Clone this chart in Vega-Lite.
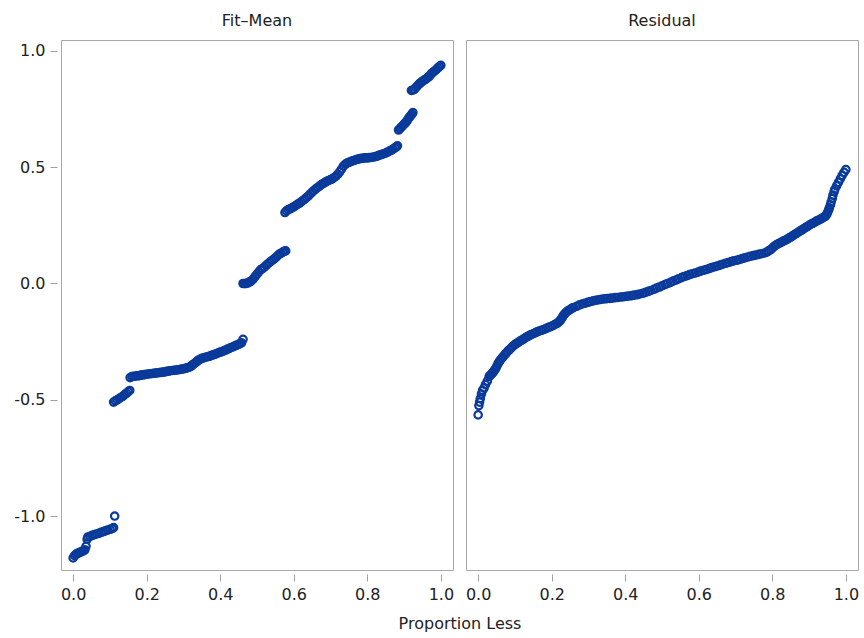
{
"$schema":"https://vega.github.io/schema/vega-lite/v6.json",
"padding":{"left":13,"top":13,"right":5,"bottom":3},
"datasets":{"pts":[
{"panel":"Fit–Mean","x":0,"y":-1.18},{"panel":"Fit–Mean","x":0.004,"y":-1.17},{"panel":"Fit–Mean","x":0.008,"y":-1.165},{"panel":"Fit–Mean","x":0.012,"y":-1.16},{"panel":"Fit–Mean","x":0.016,"y":-1.158},{"panel":"Fit–Mean","x":0.02,"y":-1.155},{"panel":"Fit–Mean","x":0.024,"y":-1.152},{"panel":"Fit–Mean","x":0.028,"y":-1.15},{"panel":"Fit–Mean","x":0.032,"y":-1.145},{"panel":"Fit–Mean","x":0.035,"y":-1.13},{"panel":"Fit–Mean","x":0.038,"y":-1.1},{"panel":"Fit–Mean","x":0.04,"y":-1.09},{"panel":"Fit–Mean","x":0.046,"y":-1.087},{"panel":"Fit–Mean","x":0.052,"y":-1.083},{"panel":"Fit–Mean","x":0.058,"y":-1.08},{"panel":"Fit–Mean","x":0.064,"y":-1.077},{"panel":"Fit–Mean","x":0.07,"y":-1.074},{"panel":"Fit–Mean","x":0.076,"y":-1.07},{"panel":"Fit–Mean","x":0.082,"y":-1.067},{"panel":"Fit–Mean","x":0.088,"y":-1.064},{"panel":"Fit–Mean","x":0.094,"y":-1.06},{"panel":"Fit–Mean","x":0.1,"y":-1.057},{"panel":"Fit–Mean","x":0.106,"y":-1.054},{"panel":"Fit–Mean","x":0.11,"y":-1.05},{"panel":"Fit–Mean","x":0.113,"y":-1.0},
{"panel":"Fit–Mean","x":0.11,"y":-0.51},{"panel":"Fit–Mean","x":0.115,"y":-0.505},{"panel":"Fit–Mean","x":0.12,"y":-0.5},{"panel":"Fit–Mean","x":0.125,"y":-0.495},{"panel":"Fit–Mean","x":0.13,"y":-0.49},{"panel":"Fit–Mean","x":0.135,"y":-0.485},{"panel":"Fit–Mean","x":0.14,"y":-0.478},{"panel":"Fit–Mean","x":0.145,"y":-0.472},{"panel":"Fit–Mean","x":0.15,"y":-0.465},{"panel":"Fit–Mean","x":0.154,"y":-0.46},
{"panel":"Fit–Mean","x":0.155,"y":-0.405},{"panel":"Fit–Mean","x":0.16,"y":-0.4},{"panel":"Fit–Mean","x":0.165,"y":-0.399},{"panel":"Fit–Mean","x":0.17,"y":-0.398},{"panel":"Fit–Mean","x":0.175,"y":-0.397},{"panel":"Fit–Mean","x":0.18,"y":-0.396},{"panel":"Fit–Mean","x":0.185,"y":-0.394},{"panel":"Fit–Mean","x":0.19,"y":-0.393},{"panel":"Fit–Mean","x":0.195,"y":-0.392},{"panel":"Fit–Mean","x":0.2,"y":-0.39},{"panel":"Fit–Mean","x":0.205,"y":-0.389},{"panel":"Fit–Mean","x":0.21,"y":-0.388},{"panel":"Fit–Mean","x":0.215,"y":-0.387},{"panel":"Fit–Mean","x":0.22,"y":-0.386},{"panel":"Fit–Mean","x":0.225,"y":-0.385},{"panel":"Fit–Mean","x":0.23,"y":-0.384},{"panel":"Fit–Mean","x":0.235,"y":-0.383},{"panel":"Fit–Mean","x":0.24,"y":-0.382},{"panel":"Fit–Mean","x":0.245,"y":-0.381},{"panel":"Fit–Mean","x":0.25,"y":-0.38},{"panel":"Fit–Mean","x":0.255,"y":-0.378},{"panel":"Fit–Mean","x":0.26,"y":-0.377},{"panel":"Fit–Mean","x":0.265,"y":-0.375},{"panel":"Fit–Mean","x":0.27,"y":-0.374},{"panel":"Fit–Mean","x":0.275,"y":-0.373},{"panel":"Fit–Mean","x":0.28,"y":-0.372},{"panel":"Fit–Mean","x":0.285,"y":-0.371},{"panel":"Fit–Mean","x":0.29,"y":-0.37},{"panel":"Fit–Mean","x":0.295,"y":-0.368},{"panel":"Fit–Mean","x":0.3,"y":-0.367},{"panel":"Fit–Mean","x":0.305,"y":-0.365},{"panel":"Fit–Mean","x":0.31,"y":-0.363},{"panel":"Fit–Mean","x":0.314,"y":-0.361},{"panel":"Fit–Mean","x":0.318,"y":-0.358},{"panel":"Fit–Mean","x":0.322,"y":-0.354},{"panel":"Fit–Mean","x":0.325,"y":-0.35},{"panel":"Fit–Mean","x":0.329,"y":-0.345},{"panel":"Fit–Mean","x":0.333,"y":-0.34},{"panel":"Fit–Mean","x":0.337,"y":-0.335},{"panel":"Fit–Mean","x":0.34,"y":-0.33},{"panel":"Fit–Mean","x":0.345,"y":-0.326},{"panel":"Fit–Mean","x":0.35,"y":-0.322},{"panel":"Fit–Mean","x":0.355,"y":-0.32},{"panel":"Fit–Mean","x":0.36,"y":-0.317},{"panel":"Fit–Mean","x":0.365,"y":-0.315},{"panel":"Fit–Mean","x":0.37,"y":-0.313},{"panel":"Fit–Mean","x":0.375,"y":-0.31},{"panel":"Fit–Mean","x":0.38,"y":-0.307},{"panel":"Fit–Mean","x":0.385,"y":-0.305},{"panel":"Fit–Mean","x":0.39,"y":-0.302},{"panel":"Fit–Mean","x":0.395,"y":-0.298},{"panel":"Fit–Mean","x":0.4,"y":-0.295},{"panel":"Fit–Mean","x":0.405,"y":-0.293},{"panel":"Fit–Mean","x":0.41,"y":-0.29},{"panel":"Fit–Mean","x":0.415,"y":-0.286},{"panel":"Fit–Mean","x":0.42,"y":-0.282},{"panel":"Fit–Mean","x":0.425,"y":-0.279},{"panel":"Fit–Mean","x":0.43,"y":-0.275},{"panel":"Fit–Mean","x":0.435,"y":-0.272},{"panel":"Fit–Mean","x":0.44,"y":-0.268},{"panel":"Fit–Mean","x":0.445,"y":-0.265},{"panel":"Fit–Mean","x":0.45,"y":-0.262},{"panel":"Fit–Mean","x":0.454,"y":-0.258},{"panel":"Fit–Mean","x":0.458,"y":-0.255},{"panel":"Fit–Mean","x":0.462,"y":-0.24},
{"panel":"Fit–Mean","x":0.462,"y":0.0},{"panel":"Fit–Mean","x":0.466,"y":0.0},{"panel":"Fit–Mean","x":0.47,"y":0.0},{"panel":"Fit–Mean","x":0.474,"y":0.002},{"panel":"Fit–Mean","x":0.478,"y":0.005},{"panel":"Fit–Mean","x":0.482,"y":0.008},{"panel":"Fit–Mean","x":0.485,"y":0.012},{"panel":"Fit–Mean","x":0.49,"y":0.02},{"panel":"Fit–Mean","x":0.495,"y":0.03},{"panel":"Fit–Mean","x":0.5,"y":0.04},{"panel":"Fit–Mean","x":0.505,"y":0.05},{"panel":"Fit–Mean","x":0.51,"y":0.06},{"panel":"Fit–Mean","x":0.515,"y":0.064},{"panel":"Fit–Mean","x":0.52,"y":0.07},{"panel":"Fit–Mean","x":0.525,"y":0.078},{"panel":"Fit–Mean","x":0.53,"y":0.085},{"panel":"Fit–Mean","x":0.535,"y":0.092},{"panel":"Fit–Mean","x":0.54,"y":0.098},{"panel":"Fit–Mean","x":0.545,"y":0.104},{"panel":"Fit–Mean","x":0.55,"y":0.11},{"panel":"Fit–Mean","x":0.555,"y":0.118},{"panel":"Fit–Mean","x":0.56,"y":0.125},{"panel":"Fit–Mean","x":0.565,"y":0.13},{"panel":"Fit–Mean","x":0.57,"y":0.135},{"panel":"Fit–Mean","x":0.574,"y":0.138},{"panel":"Fit–Mean","x":0.578,"y":0.14},
{"panel":"Fit–Mean","x":0.576,"y":0.305},{"panel":"Fit–Mean","x":0.58,"y":0.312},{"panel":"Fit–Mean","x":0.585,"y":0.318},{"panel":"Fit–Mean","x":0.59,"y":0.321},{"panel":"Fit–Mean","x":0.595,"y":0.325},{"panel":"Fit–Mean","x":0.6,"y":0.33},{"panel":"Fit–Mean","x":0.605,"y":0.335},{"panel":"Fit–Mean","x":0.61,"y":0.34},{"panel":"Fit–Mean","x":0.615,"y":0.345},{"panel":"Fit–Mean","x":0.62,"y":0.351},{"panel":"Fit–Mean","x":0.625,"y":0.357},{"panel":"Fit–Mean","x":0.63,"y":0.363},{"panel":"Fit–Mean","x":0.635,"y":0.37},{"panel":"Fit–Mean","x":0.64,"y":0.377},{"panel":"Fit–Mean","x":0.645,"y":0.385},{"panel":"Fit–Mean","x":0.65,"y":0.393},{"panel":"Fit–Mean","x":0.655,"y":0.4},{"panel":"Fit–Mean","x":0.66,"y":0.407},{"panel":"Fit–Mean","x":0.665,"y":0.413},{"panel":"Fit–Mean","x":0.67,"y":0.419},{"panel":"Fit–Mean","x":0.675,"y":0.425},{"panel":"Fit–Mean","x":0.68,"y":0.43},{"panel":"Fit–Mean","x":0.685,"y":0.435},{"panel":"Fit–Mean","x":0.69,"y":0.439},{"panel":"Fit–Mean","x":0.695,"y":0.443},{"panel":"Fit–Mean","x":0.7,"y":0.447},{"panel":"Fit–Mean","x":0.705,"y":0.45},{"panel":"Fit–Mean","x":0.71,"y":0.456},{"panel":"Fit–Mean","x":0.715,"y":0.462},{"panel":"Fit–Mean","x":0.72,"y":0.47},{"panel":"Fit–Mean","x":0.725,"y":0.48},{"panel":"Fit–Mean","x":0.73,"y":0.492},{"panel":"Fit–Mean","x":0.735,"y":0.505},{"panel":"Fit–Mean","x":0.74,"y":0.512},{"panel":"Fit–Mean","x":0.745,"y":0.518},{"panel":"Fit–Mean","x":0.75,"y":0.521},{"panel":"Fit–Mean","x":0.755,"y":0.524},{"panel":"Fit–Mean","x":0.76,"y":0.527},{"panel":"Fit–Mean","x":0.765,"y":0.53},{"panel":"Fit–Mean","x":0.77,"y":0.533},{"panel":"Fit–Mean","x":0.775,"y":0.535},{"panel":"Fit–Mean","x":0.78,"y":0.537},{"panel":"Fit–Mean","x":0.785,"y":0.538},{"panel":"Fit–Mean","x":0.79,"y":0.539},{"panel":"Fit–Mean","x":0.795,"y":0.54},{"panel":"Fit–Mean","x":0.8,"y":0.54},{"panel":"Fit–Mean","x":0.805,"y":0.541},{"panel":"Fit–Mean","x":0.81,"y":0.542},{"panel":"Fit–Mean","x":0.815,"y":0.543},{"panel":"Fit–Mean","x":0.82,"y":0.545},{"panel":"Fit–Mean","x":0.825,"y":0.547},{"panel":"Fit–Mean","x":0.83,"y":0.55},{"panel":"Fit–Mean","x":0.835,"y":0.553},{"panel":"Fit–Mean","x":0.84,"y":0.555},{"panel":"Fit–Mean","x":0.845,"y":0.558},{"panel":"Fit–Mean","x":0.85,"y":0.561},{"panel":"Fit–Mean","x":0.855,"y":0.565},{"panel":"Fit–Mean","x":0.86,"y":0.569},{"panel":"Fit–Mean","x":0.865,"y":0.573},{"panel":"Fit–Mean","x":0.87,"y":0.578},{"panel":"Fit–Mean","x":0.875,"y":0.583},{"panel":"Fit–Mean","x":0.879,"y":0.588},{"panel":"Fit–Mean","x":0.882,"y":0.592},
{"panel":"Fit–Mean","x":0.885,"y":0.66},{"panel":"Fit–Mean","x":0.889,"y":0.666},{"panel":"Fit–Mean","x":0.892,"y":0.672},{"panel":"Fit–Mean","x":0.896,"y":0.678},{"panel":"Fit–Mean","x":0.9,"y":0.685},{"panel":"Fit–Mean","x":0.903,"y":0.69},{"panel":"Fit–Mean","x":0.906,"y":0.695},{"panel":"Fit–Mean","x":0.909,"y":0.702},{"panel":"Fit–Mean","x":0.912,"y":0.71},{"panel":"Fit–Mean","x":0.915,"y":0.716},{"panel":"Fit–Mean","x":0.918,"y":0.722},{"panel":"Fit–Mean","x":0.921,"y":0.728},{"panel":"Fit–Mean","x":0.924,"y":0.735},
{"panel":"Fit–Mean","x":0.92,"y":0.83},{"panel":"Fit–Mean","x":0.924,"y":0.832},{"panel":"Fit–Mean","x":0.928,"y":0.835},{"panel":"Fit–Mean","x":0.932,"y":0.842},{"panel":"Fit–Mean","x":0.936,"y":0.85},{"panel":"Fit–Mean","x":0.94,"y":0.856},{"panel":"Fit–Mean","x":0.944,"y":0.862},{"panel":"Fit–Mean","x":0.948,"y":0.867},{"panel":"Fit–Mean","x":0.952,"y":0.872},{"panel":"Fit–Mean","x":0.956,"y":0.876},{"panel":"Fit–Mean","x":0.96,"y":0.88},{"panel":"Fit–Mean","x":0.964,"y":0.885},{"panel":"Fit–Mean","x":0.968,"y":0.89},{"panel":"Fit–Mean","x":0.972,"y":0.898},{"panel":"Fit–Mean","x":0.976,"y":0.905},{"panel":"Fit–Mean","x":0.98,"y":0.91},{"panel":"Fit–Mean","x":0.984,"y":0.915},{"panel":"Fit–Mean","x":0.988,"y":0.921},{"panel":"Fit–Mean","x":0.992,"y":0.927},{"panel":"Fit–Mean","x":0.996,"y":0.933},{"panel":"Fit–Mean","x":1.0,"y":0.938},
{"panel":"Residual","x":0,"y":-0.565},{"panel":"Residual","x":0.002,"y":-0.525},{"panel":"Residual","x":0.004,"y":-0.51},{"panel":"Residual","x":0.006,"y":-0.495},{"panel":"Residual","x":0.009,"y":-0.475},{"panel":"Residual","x":0.012,"y":-0.46},{"panel":"Residual","x":0.016,"y":-0.45},{"panel":"Residual","x":0.02,"y":-0.435},{"panel":"Residual","x":0.025,"y":-0.42},{"panel":"Residual","x":0.03,"y":-0.4},{"panel":"Residual","x":0.033,"y":-0.395},{"panel":"Residual","x":0.036,"y":-0.39},{"panel":"Residual","x":0.039,"y":-0.385},{"panel":"Residual","x":0.042,"y":-0.38},{"panel":"Residual","x":0.045,"y":-0.372},{"panel":"Residual","x":0.048,"y":-0.365},{"panel":"Residual","x":0.051,"y":-0.355},{"panel":"Residual","x":0.054,"y":-0.345},{"panel":"Residual","x":0.057,"y":-0.337},{"panel":"Residual","x":0.06,"y":-0.33},{"panel":"Residual","x":0.064,"y":-0.322},{"panel":"Residual","x":0.068,"y":-0.315},{"panel":"Residual","x":0.072,"y":-0.307},{"panel":"Residual","x":0.076,"y":-0.3},{"panel":"Residual","x":0.08,"y":-0.292},{"panel":"Residual","x":0.085,"y":-0.285},{"panel":"Residual","x":0.09,"y":-0.277},{"panel":"Residual","x":0.094,"y":-0.27},{"panel":"Residual","x":0.099,"y":-0.264},
{"panel":"Residual","x":0.104,"y":-0.258},{"panel":"Residual","x":0.109,"y":-0.253},{"panel":"Residual","x":0.114,"y":-0.248},{"panel":"Residual","x":0.119,"y":-0.243},{"panel":"Residual","x":0.124,"y":-0.238},{"panel":"Residual","x":0.129,"y":-0.233},{"panel":"Residual","x":0.134,"y":-0.228},{"panel":"Residual","x":0.139,"y":-0.224},{"panel":"Residual","x":0.144,"y":-0.22},{"panel":"Residual","x":0.15,"y":-0.216},{"panel":"Residual","x":0.155,"y":-0.212},{"panel":"Residual","x":0.16,"y":-0.208},{"panel":"Residual","x":0.166,"y":-0.205},{"panel":"Residual","x":0.172,"y":-0.201},{"panel":"Residual","x":0.178,"y":-0.198},{"panel":"Residual","x":0.184,"y":-0.194},{"panel":"Residual","x":0.19,"y":-0.19},{"panel":"Residual","x":0.196,"y":-0.186},{"panel":"Residual","x":0.202,"y":-0.182},{"panel":"Residual","x":0.208,"y":-0.177},{"panel":"Residual","x":0.214,"y":-0.172},{"panel":"Residual","x":0.218,"y":-0.167},{"panel":"Residual","x":0.222,"y":-0.162},{"panel":"Residual","x":0.225,"y":-0.155},{"panel":"Residual","x":0.228,"y":-0.148},{"panel":"Residual","x":0.231,"y":-0.14},{"panel":"Residual","x":0.234,"y":-0.133},{"panel":"Residual","x":0.238,"y":-0.126},{"panel":"Residual","x":0.242,"y":-0.12},{"panel":"Residual","x":0.247,"y":-0.115},{"panel":"Residual","x":0.252,"y":-0.11},{"panel":"Residual","x":0.256,"y":-0.106},
{"panel":"Residual","x":0.26,"y":-0.103},{"panel":"Residual","x":0.268,"y":-0.098},{"panel":"Residual","x":0.276,"y":-0.092},{"panel":"Residual","x":0.283,"y":-0.088},{"panel":"Residual","x":0.29,"y":-0.085},{"panel":"Residual","x":0.298,"y":-0.081},{"panel":"Residual","x":0.305,"y":-0.078},{"panel":"Residual","x":0.313,"y":-0.075},{"panel":"Residual","x":0.32,"y":-0.072},{"panel":"Residual","x":0.328,"y":-0.07},{"panel":"Residual","x":0.335,"y":-0.068},{"panel":"Residual","x":0.343,"y":-0.066},{"panel":"Residual","x":0.35,"y":-0.065},{"panel":"Residual","x":0.358,"y":-0.064},{"panel":"Residual","x":0.365,"y":-0.063},{"panel":"Residual","x":0.373,"y":-0.061},{"panel":"Residual","x":0.38,"y":-0.06},{"panel":"Residual","x":0.388,"y":-0.058},{"panel":"Residual","x":0.395,"y":-0.057},{"panel":"Residual","x":0.403,"y":-0.055},{"panel":"Residual","x":0.41,"y":-0.054},{"panel":"Residual","x":0.418,"y":-0.052},{"panel":"Residual","x":0.425,"y":-0.05},{"panel":"Residual","x":0.433,"y":-0.048},{"panel":"Residual","x":0.44,"y":-0.045},{"panel":"Residual","x":0.448,"y":-0.042},{"panel":"Residual","x":0.455,"y":-0.038},{"panel":"Residual","x":0.463,"y":-0.034},{"panel":"Residual","x":0.47,"y":-0.03},{"panel":"Residual","x":0.478,"y":-0.025},{"panel":"Residual","x":0.485,"y":-0.02},{"panel":"Residual","x":0.493,"y":-0.015},{"panel":"Residual","x":0.5,"y":-0.01},{"panel":"Residual","x":0.508,"y":-0.005},{"panel":"Residual","x":0.515,"y":0.0},{"panel":"Residual","x":0.523,"y":0.005},{"panel":"Residual","x":0.53,"y":0.01},{"panel":"Residual","x":0.538,"y":0.015},{"panel":"Residual","x":0.545,"y":0.02},{"panel":"Residual","x":0.553,"y":0.025},{"panel":"Residual","x":0.56,"y":0.03},{"panel":"Residual","x":0.568,"y":0.034},{"panel":"Residual","x":0.575,"y":0.038},{"panel":"Residual","x":0.583,"y":0.042},{"panel":"Residual","x":0.59,"y":0.045},{"panel":"Residual","x":0.598,"y":0.049},{"panel":"Residual","x":0.605,"y":0.053},{"panel":"Residual","x":0.613,"y":0.057},{"panel":"Residual","x":0.62,"y":0.06},{"panel":"Residual","x":0.628,"y":0.064},{"panel":"Residual","x":0.635,"y":0.068},{"panel":"Residual","x":0.643,"y":0.072},{"panel":"Residual","x":0.65,"y":0.075},{"panel":"Residual","x":0.658,"y":0.079},{"panel":"Residual","x":0.665,"y":0.083},{"panel":"Residual","x":0.673,"y":0.087},{"panel":"Residual","x":0.68,"y":0.09},{"panel":"Residual","x":0.688,"y":0.094},{"panel":"Residual","x":0.695,"y":0.097},{"panel":"Residual","x":0.703,"y":0.1},{"panel":"Residual","x":0.71,"y":0.103},{"panel":"Residual","x":0.718,"y":0.107},{"panel":"Residual","x":0.725,"y":0.11},{"panel":"Residual","x":0.733,"y":0.114},{"panel":"Residual","x":0.74,"y":0.117},{"panel":"Residual","x":0.748,"y":0.12},{"panel":"Residual","x":0.755,"y":0.122},{"panel":"Residual","x":0.763,"y":0.125},{"panel":"Residual","x":0.77,"y":0.128},{"panel":"Residual","x":0.778,"y":0.131},{"panel":"Residual","x":0.785,"y":0.135},{"panel":"Residual","x":0.79,"y":0.14},{"panel":"Residual","x":0.795,"y":0.145},{"panel":"Residual","x":0.8,"y":0.152},{"panel":"Residual","x":0.805,"y":0.16},{"panel":"Residual","x":0.81,"y":0.165},{"panel":"Residual","x":0.815,"y":0.17},{"panel":"Residual","x":0.82,"y":0.174},{"panel":"Residual","x":0.825,"y":0.178},{"panel":"Residual","x":0.83,"y":0.182},{"panel":"Residual","x":0.835,"y":0.186},{"panel":"Residual","x":0.84,"y":0.19},{"panel":"Residual","x":0.845,"y":0.195},{"panel":"Residual","x":0.85,"y":0.2},{"panel":"Residual","x":0.855,"y":0.205},{"panel":"Residual","x":0.86,"y":0.21},{"panel":"Residual","x":0.865,"y":0.215},{"panel":"Residual","x":0.87,"y":0.22},{"panel":"Residual","x":0.875,"y":0.225},{"panel":"Residual","x":0.88,"y":0.23},{"panel":"Residual","x":0.885,"y":0.235},{"panel":"Residual","x":0.89,"y":0.24},{"panel":"Residual","x":0.895,"y":0.245},{"panel":"Residual","x":0.9,"y":0.25},{"panel":"Residual","x":0.905,"y":0.255},{"panel":"Residual","x":0.91,"y":0.259},{"panel":"Residual","x":0.915,"y":0.263},{"panel":"Residual","x":0.92,"y":0.268},{"panel":"Residual","x":0.925,"y":0.272},{"panel":"Residual","x":0.93,"y":0.276},{"panel":"Residual","x":0.935,"y":0.28},{"panel":"Residual","x":0.94,"y":0.285},{"panel":"Residual","x":0.945,"y":0.29},{"panel":"Residual","x":0.948,"y":0.297},{"panel":"Residual","x":0.95,"y":0.305},{"panel":"Residual","x":0.953,"y":0.315},{"panel":"Residual","x":0.955,"y":0.325},{"panel":"Residual","x":0.958,"y":0.338},{"panel":"Residual","x":0.96,"y":0.35},{"panel":"Residual","x":0.963,"y":0.365},{"panel":"Residual","x":0.965,"y":0.38},{"panel":"Residual","x":0.968,"y":0.395},{"panel":"Residual","x":0.97,"y":0.405},{"panel":"Residual","x":0.975,"y":0.42},{"panel":"Residual","x":0.98,"y":0.435},{"panel":"Residual","x":0.985,"y":0.45},{"panel":"Residual","x":0.99,"y":0.465},{"panel":"Residual","x":0.995,"y":0.478},{"panel":"Residual","x":1.0,"y":0.49}
]},
"data":{"name":"pts"},
"facet":{"column":{"field":"panel","type":"nominal","sort":["Fit–Mean","Residual"],"title":"Proportion Less","header":{"labelOrient":"top","titleOrient":"bottom","labelFontSize":16,"titleFontSize":16,"titleFontWeight":"normal","labelFont":"DejaVu Sans","titleFont":"DejaVu Sans","labelColor":"#222222","titleColor":"#222222","labelPadding":10,"titlePadding":4}}},
"spacing":11,
"spec":{
"width":392,"height":530,
"mark":{"type":"point","shape":"circle","filled":false,"size":55,"strokeWidth":2.2,"color":"#0a3a9a","opacity":1},
"encoding":{
"x":{"field":"x","type":"quantitative","scale":{"domain":[-0.033,1.033],"nice":false,"zero":false},"axis":{"title":null,"values":[0,0.2,0.4,0.6,0.8,1.0],"format":".1f"}},
"y":{"field":"y","type":"quantitative","scale":{"domain":[-1.232,1.047],"nice":false,"zero":false},"axis":{"title":null,"values":[-1,-0.5,0,0.5,1],"labelExpr":"replace(format(datum.value,'.1f'),'−','-')"}}
}
},
"config":{
"view":{"stroke":"#a8a8a8","strokeWidth":1},
"axis":{"domain":false,"grid":false,"offset":3,"tickColor":"#a0a0a0","tickSize":7,"labelFontSize":16,"labelFont":"DejaVu Sans","labelColor":"#222222","labelPadding":5}
}
}
